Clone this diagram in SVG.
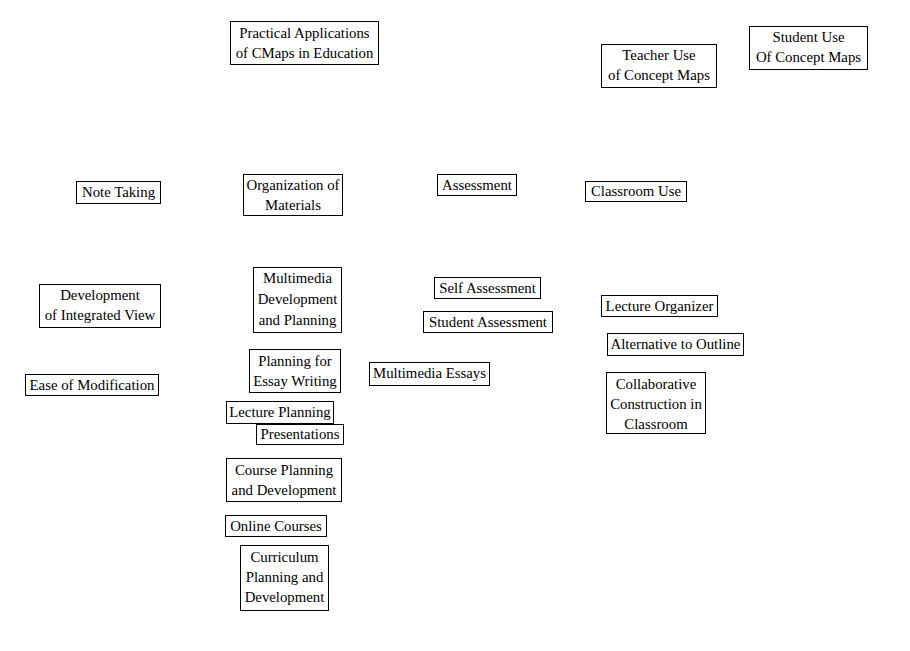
<svg xmlns="http://www.w3.org/2000/svg" width="910" height="651" viewBox="0 0 910 651">
<style>
rect.n{fill:#fff;stroke:#000;stroke-width:1}
text{font-family:"Liberation Serif","Times New Roman",serif;font-size:14.8px;fill:#000;text-anchor:middle}
</style>
<rect x="0" y="0" width="910" height="651" fill="#fff"/>
<g id="connectors"></g>
<g id="practical"><rect class="n" x="230.5" y="21.5" width="148" height="43"/><text x="304.5" y="38">Practical Applications</text><text x="304.5" y="58">of CMaps in Education</text></g>
<g id="teacher"><rect class="n" x="601.5" y="44.5" width="115" height="43"/><text x="659" y="60">Teacher Use</text><text x="659" y="80">of Concept Maps</text></g>
<g id="student"><rect class="n" x="749.5" y="26.5" width="118" height="43"/><text x="808.5" y="42">Student Use</text><text x="808.5" y="62">Of Concept Maps</text></g>
<g id="notetaking"><rect class="n" x="76.5" y="181.5" width="84" height="22"/><text x="118.5" y="197">Note Taking</text></g>
<g id="organization"><rect class="n" x="243.5" y="174.5" width="99" height="41"/><text x="293" y="190">Organization of</text><text x="293" y="210">Materials</text></g>
<g id="assessment"><rect class="n" x="437.5" y="174.5" width="79" height="21"/><text x="477" y="190">Assessment</text></g>
<g id="classroom"><rect class="n" x="585.5" y="181.5" width="101" height="20"/><text x="636" y="196">Classroom Use</text></g>
<g id="integrated"><rect class="n" x="39.5" y="284.5" width="121" height="43"/><text x="100" y="299.5">Development</text><text x="100" y="319.5">of Integrated View</text></g>
<g id="multimedia"><rect class="n" x="253.5" y="267.5" width="88" height="65"/><text x="297.5" y="283">Multimedia</text><text x="297.5" y="303.5">Development</text><text x="297.5" y="324.5">and Planning</text></g>
<g id="selfassessment"><rect class="n" x="434.5" y="277.5" width="106" height="21"/><text x="487.5" y="293">Self Assessment</text></g>
<g id="studentassessment"><rect class="n" x="423.5" y="311.5" width="129" height="21"/><text x="488" y="327">Student Assessment</text></g>
<g id="lectureorganizer"><rect class="n" x="601.5" y="295.5" width="116" height="21"/><text x="659.5" y="311">Lecture Organizer</text></g>
<g id="alternative"><rect class="n" x="607.5" y="333.5" width="136" height="22"/><text x="675.5" y="349">Alternative to Outline</text></g>
<g id="collaborative"><rect class="n" x="606.5" y="372.5" width="99" height="61"/><text x="656" y="389">Collaborative</text><text x="656" y="409">Construction in</text><text x="656" y="429">Classroom</text></g>
<g id="ease"><rect class="n" x="25.5" y="374.5" width="133" height="21"/><text x="92" y="390">Ease of Modification</text></g>
<g id="essay"><rect class="n" x="249.5" y="349.5" width="91" height="43"/><text x="295" y="365.5">Planning for</text><text x="295" y="385.5">Essay Writing</text></g>
<g id="multimediaessays"><rect class="n" x="369.5" y="362.5" width="120" height="23"/><text x="429.5" y="378">Multimedia Essays</text></g>
<g id="lectureplanning"><rect class="n" x="226.5" y="401.5" width="107" height="22"/><text x="280" y="416.5">Lecture Planning</text></g>
<g id="presentations"><rect class="n" x="256.5" y="424.5" width="87" height="20"/><text x="300" y="439">Presentations</text></g>
<g id="courseplanning"><rect class="n" x="226.5" y="458.5" width="115" height="43"/><text x="284" y="475">Course Planning</text><text x="284" y="495">and Development</text></g>
<g id="online"><rect class="n" x="225.5" y="515.5" width="101" height="21"/><text x="276" y="531">Online Courses</text></g>
<g id="curriculum"><rect class="n" x="240.5" y="545.5" width="88" height="65"/><text x="284.5" y="561.5">Curriculum</text><text x="284.5" y="581.5">Planning and</text><text x="284.5" y="601.5">Development</text></g>
</svg>
